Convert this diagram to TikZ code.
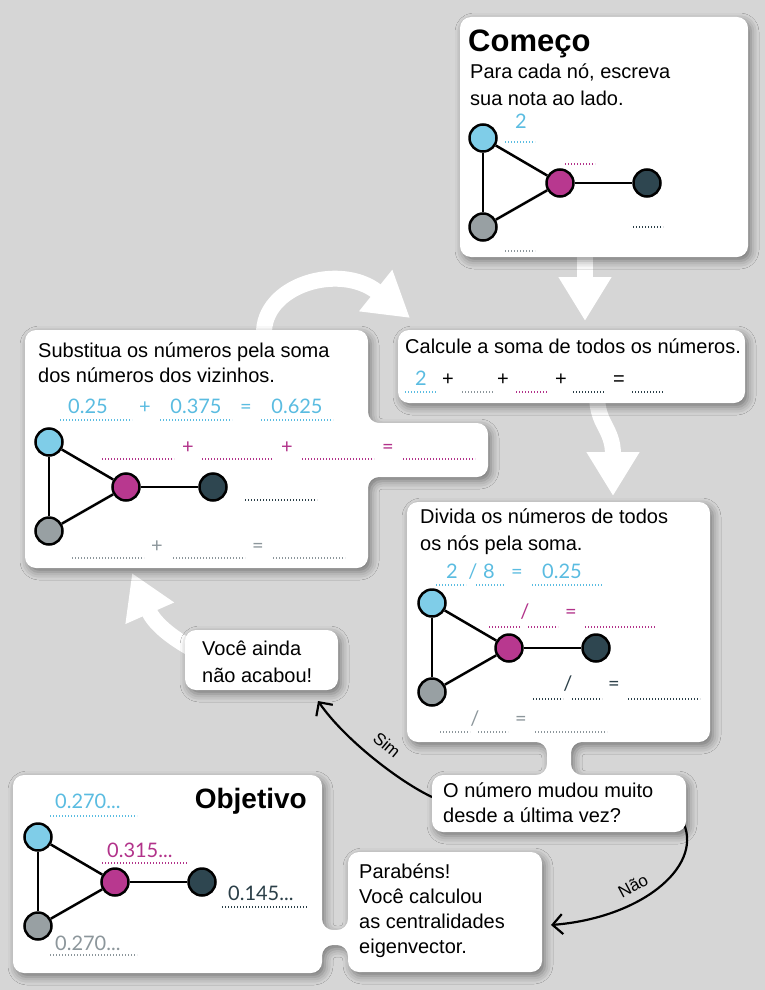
\documentclass[tikz,border=0pt]{standalone}
\usepackage{fontspec}
\setmainfont{Liberation Sans}
\newfontfamily\numfont{Lato}
\usetikzlibrary{arrows.meta,shadows.blur}
\definecolor{bgc}{RGB}{214,214,214}
\definecolor{clb}{RGB}{127,205,232}
\definecolor{cmg}{RGB}{184,56,143}
\definecolor{cdk}{RGB}{46,70,80}
\definecolor{cgy}{RGB}{152,160,163}
\definecolor{tlb}{RGB}{90,188,225}
\definecolor{tmg}{RGB}{178,50,138}
\definecolor{tdk}{RGB}{43,63,72}
\definecolor{tgy}{RGB}{140,150,155}
\newcommand\mygraphx[3]{%
  \node[gnode,fill=clb] (#1a) at (#2,#3) {};
  \node[gnode,fill=cmg] (#1b) at ({#2+77},{#3+45}) {};
  \node[gnode,fill=cdk] (#1c) at ({#2+164},{#3+45}) {};
  \node[gnode,fill=cgy] (#1d) at (#2,{#3+89}) {};
  \draw[gedge] (#1a) -- (#1b);
  \draw[gedge] (#1b) -- (#1d);
  \draw[gedge] (#1d) -- (#1a);
  \draw[gedge] (#1b) -- (#1c);
}
\newcommand\dotl[4]{\draw[dots,#1] (#2,#4) -- (#3,#4);}
\begin{document}
\begin{tikzpicture}[x=1pt,y=-1pt,
  box/.style={fill=white, rounded corners=11pt, blur shadow={shadow xshift=3pt, shadow yshift=-4pt, shadow blur radius=8pt, shadow opacity=45}},
  txt/.style={font=\fontsize{20}{24}\selectfont, anchor=base west, inner sep=0pt},
  txc/.style={font=\fontsize{20}{24}\selectfont, anchor=base, inner sep=0pt},
  num/.style={font=\numfont\fontsize{20}{24}\selectfont, anchor=base, inner sep=0pt},
  snum/.style={font=\numfont\fontsize{20}{24}\selectfont, anchor=base west, inner sep=0pt},
  title/.style={font=\bfseries\fontsize{31}{36}\selectfont, inner sep=0pt},
  gnode/.style={circle, draw=black, line width=2.5pt, minimum size=27pt, inner sep=0pt},
  gedge/.style={line width=2.5pt, black},
  dots/.style={line width=1.3pt, dash pattern=on 1.3pt off 1.7pt},
  bigarrow/.style={line width=16pt, white, -{Triangle[width=50pt,length=44pt]}},
  thinarrow/.style={line width=2.2pt, black, -{Straight Barb[length=10pt,width=20pt]}},
  lab/.style={font=\fontsize{17}{20}\selectfont, inner sep=0pt}]
\useasboundingbox (0,0) rectangle (765,990);
\fill[bgc] (0,0) rectangle (765,990);

% big white arrows
\coordinate (a1s) at (585,245); \coordinate (a1e) at (585,321);
\draw[bigarrow] (a1s) -- (a1e);
\coordinate (a2s) at (597,395); \coordinate (a2e) at (613,496);
\draw[bigarrow] (a2s) .. controls (597,425) and (613,428) .. (a2e);
\coordinate (a3s) at (198,652); \coordinate (a3e) at (132,573);
\draw[bigarrow] (a3s) .. controls (175,640) and (155,625) .. (a3e);
\coordinate (a4s) at (264,335); \coordinate (a4e) at (410,318);
\draw[bigarrow] (a4s) .. controls (262,285) and (340,262) .. (a4e);

% thin arrows
\coordinate (s1) at (432,797); \coordinate (s2) at (318,701);
\draw[thinarrow] (s1) .. controls (400,782) and (345,740) .. (s2);
\coordinate (n1) at (684,824); \coordinate (n2) at (551,925);
\draw[thinarrow] (n1) .. controls (702,868) and (640,918) .. (n2);
\node[lab, rotate=-40] (sim) at (387,745) {Sim};
\node[lab, rotate=28] (nao) at (633,886) {Não};

% boxes
\path[box] (460,17) rectangle (748,257);
\path[box] (398,330) rectangle (745,403);
\path[box] (25,330) -- (368,330) -- (368,423) -- (488,423) -- (488,477) -- (368,477) -- (368,568) -- (25,568) -- cycle;
\path[box] (407,502) -- (710,502) -- (710,742) -- (571,742) -- (571,775) -- (686,775) -- (686,832) -- (432,832) -- (432,775) -- (547,775) -- (547,742) -- (407,742) -- cycle;
\path[box] (185,630) rectangle (338,690);
\path[box] (13,775) -- (322,775) -- (322,930) -- (348,930) -- (348,852) -- (542,852) -- (542,972) -- (348,972) -- (348,945) -- (322,945) -- (322,973) -- (13,973) -- cycle;

% Comeco
\node[title, anchor=base west] (t1) at (468,52) {Começo};
\node[txt] (c1) at (470,78) {Para cada nó, escreva};
\node[txt] (c2) at (470,105) {sua nota ao lado.};
\mygraphx{g1}{483}{138}
\node[num, tlb] (c3) at (521,128) {2};
\dotl{tlb}{505}{535}{142}
\dotl{tmg}{565}{595}{164}
\dotl{tdk}{633}{663}{227}
\dotl{tgy}{505}{535}{251}

% Calcule
\node[txt] (k1) at (405,353) {Calcule a soma de todos os números.};
\node[num, tlb] (k2) at (421,385) {2};
\node[txc] (k3) at (448,385) {+};
\node[txc] (k4) at (503,385) {+};
\node[txc] (k5) at (561,385) {+};
\node[txc] (k6) at (619,385) {=};
\dotl{tlb}{405}{437}{392}
\dotl{tgy}{462}{493}{392}
\dotl{tmg}{516}{548}{392}
\dotl{tdk}{573}{605}{392}
\dotl{tdk}{632}{663}{392}

% Substitua
\node[txt] (u1) at (38,357) {Substitua os números pela soma};
\node[txt] (u2) at (38,382) {dos números dos vizinhos.};
\mygraphx{g2}{49}{442}
\node[num, tlb] (u3) at (88,413) {0.25};
\node[num, tlb] (u4) at (145,413) {+};
\node[num, tlb] (u5) at (196,413) {0.375};
\node[num, tlb] (u6) at (246,413) {=};
\node[num, tlb] (u7) at (297,413) {0.625};
\dotl{tlb}{60}{132}{420}
\dotl{tlb}{160}{232}{420}
\dotl{tlb}{261}{333}{420}
\node[num, tmg] (u8) at (188,453) {+};
\node[num, tmg] (u9) at (287,453) {+};
\node[num, tmg] (u10) at (388,453) {=};
\dotl{tmg}{102}{174}{459}
\dotl{tmg}{202}{273}{459}
\dotl{tmg}{302}{374}{459}
\dotl{tmg}{403}{475}{459}
\dotl{tdk}{245}{317}{500}
\node[num, tgy] (u11) at (157,552) {+};
\node[num, tgy] (u12) at (258,552) {=};
\dotl{tgy}{72}{144}{558}
\dotl{tgy}{173}{245}{558}
\dotl{tgy}{273}{345}{558}

% Divida
\node[txt] (d1) at (420,523) {Divida os números de todos};
\node[txt] (d2) at (420,550) {os nós pela soma.};
\mygraphx{g3}{432}{603}
\node[num, tlb] (d3) at (452,578) {2};
\node[num, tlb] (d4) at (473,578) {/};
\node[num, tlb] (d5) at (489,578) {8};
\node[num, tlb] (d6) at (517,578) {=};
\node[num, tlb] (d7) at (562,578) {0.25};
\dotl{tlb}{436}{466}{585}
\dotl{tlb}{476}{505}{585}
\dotl{tlb}{532}{603}{585}
\node[num, tmg] (d8) at (525,618) {/};
\node[num, tmg] (d9) at (571,618) {=};
\dotl{tmg}{489}{520}{627}
\dotl{tmg}{528}{558}{627}
\dotl{tmg}{585}{656}{627}
\node[num, tdk] (d10) at (568,690) {/};
\node[num, tdk] (d11) at (614,690) {=};
\dotl{tdk}{533}{563}{699}
\dotl{tdk}{572}{602}{699}
\dotl{tdk}{628}{700}{699}
\node[num, tgy] (d12) at (475,725) {/};
\node[num, tgy] (d13) at (521,725) {=};
\dotl{tgy}{440}{470}{732}
\dotl{tgy}{478}{508}{732}
\dotl{tgy}{535}{607}{732}

% Voce ainda
\node[txt] (v1) at (202,655) {Você ainda};
\node[txt] (v2) at (202,682) {não acabou!};

% O numero
\node[txt] (o1) at (443,797) {O número mudou muito};
\node[txt] (o2) at (443,822) {desde a última vez?};

% Parabens
\node[txt] (p1) at (359,878) {Parabéns!};
\node[txt] (p2) at (359,903) {Você calculou};
\node[txt] (p3) at (359,928) {as centralidades};
\node[txt] (p4) at (359,953) {eigenvector.};

% Objetivo
\node[title, anchor=base east, font=\bfseries\fontsize{28}{32}\selectfont] (t2) at (307,808) {Objetivo};
\mygraphx{g4}{38}{837}
\node[snum, tlb] (b1) at (55,808) {0.270...};
\dotl{tlb}{50}{137}{816}
\node[snum, tmg] (b2) at (107,857) {0.315...};
\dotl{tmg}{102}{188}{863}
\node[snum, tdk] (b3) at (228,900) {0.145...};
\dotl{tdk}{222}{308}{907}
\node[snum, tgy] (b4) at (55,950) {0.270...};
\dotl{tgy}{50}{137}{955}
\end{tikzpicture}
\end{document}
